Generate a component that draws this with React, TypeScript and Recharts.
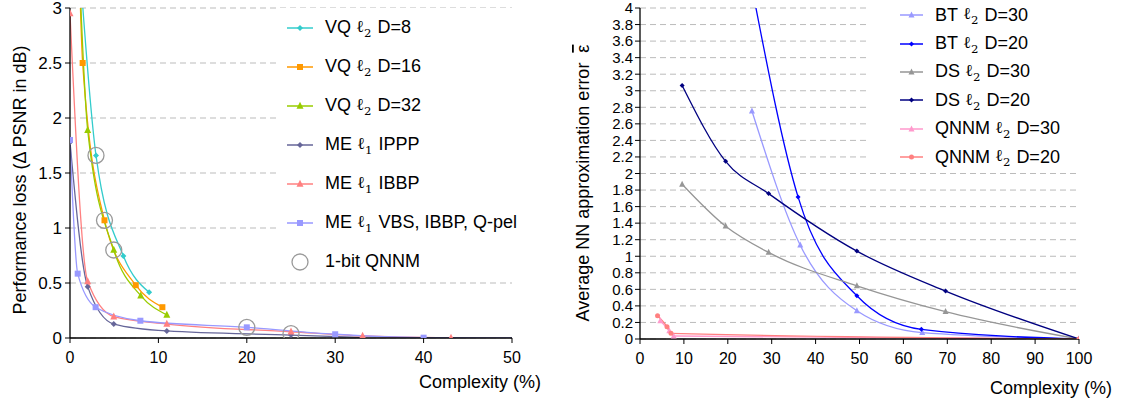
import React from 'react';
import { ComposedChart, Line, XAxis, YAxis, CartesianGrid, Legend } from 'recharts';

// left panel: performance loss vs complexity
const vq8X = [1, 2.94, 6.04, 8.95];
const vq8Y = [3.5, 1.66, 0.745, 0.415];
const vq16X = [1, 1.43, 3.9, 7.44, 10.45];
const vq16Y = [3.5, 2.5, 1.07, 0.48, 0.28];
const vq32X = [1, 2.0, 4.95, 8.0, 10.95];
const vq32Y = [3.45, 1.89, 0.8, 0.385, 0.21];
const ipppX = [0, 2, 4.95, 10.95, 25, 33.1];
const ipppY = [1.78, 0.467, 0.127, 0.064, 0.027, 0.005];
const ibbpX = [0, 2, 4.95, 10.95, 25, 33.1, 43.1];
const ibbpY = [2.95, 0.515, 0.194, 0.127, 0.057, 0.018, 0.0];
const vbsX = [0, 0.87, 2.9, 7.96, 20, 30, 40, 50];
const vbsY = [1.8, 0.585, 0.28, 0.157, 0.097, 0.034, 0.003, 0.0];
const qnnmBitX = [2.94, 3.9, 4.95, 20, 25];
const qnnmBitY = [1.66, 1.07, 0.8, 0.097, 0.04];

const leftXTicks = [0, 10, 20, 30, 40, 50];
const leftYTicks = [0, 0.5, 1, 1.5, 2, 2.5, 3];

// right panel: NN approximation error vs complexity
const bt30X = [25.5, 36.5, 49.4, 64.3, 100];
const bt30Y = [2.755, 1.134, 0.341, 0.076, 0];
const bt20X = [25.5, 36.0, 49.4, 64.1, 100];
const bt20Y = [4.25, 1.717, 0.523, 0.117, 0];
const ds30X = [9.6, 19.5, 29.3, 49.4, 69.6, 100];
const ds30Y = [1.87, 1.363, 1.046, 0.643, 0.33, 0];
const ds20X = [9.6, 19.5, 29.3, 49.4, 69.6, 100];
const ds20Y = [3.064, 2.147, 1.757, 1.062, 0.579, 0];
const qn30X = [4.63, 6.68, 7.67, 100];
const qn30Y = [0.22, 0.1, 0.036, 0];
const qn20X = [4.0, 6.15, 7.06, 100];
const qn20Y = [0.281, 0.149, 0.068, 0];

const rightXTicks = [0, 10, 20, 30, 40, 50, 60, 70, 80, 90, 100];
const rightYTicks = [0, 0.2, 0.4, 0.6, 0.8, 1, 1.2, 1.4, 1.6, 1.8, 2, 2.2, 2.4, 2.6, 2.8, 3, 3.2, 3.4, 3.6, 3.8, 4];

const zip = (xs: number[], ys: number[]) => xs.map((x, i) => ({ x, y: ys[i] }));

const FONT = '"Liberation Sans", Arial, sans-serif';

type Shape = 'diamond' | 'square' | 'triangle' | 'dot' | 'ring';

const mark = (shape: Shape, color: string, s: number, cx: number, cy: number, key?: any) => {
  if (shape === 'square')
    return <rect key={key} x={cx - s / 2} y={cy - s / 2} width={s} height={s} fill={color} />;
  if (shape === 'triangle')
    return (
      <polygon key={key} points={`${cx},${cy - s * 0.6} ${cx - s / 2},${cy + s * 0.4} ${cx + s / 2},${cy + s * 0.4}`} fill={color} />
    );
  if (shape === 'diamond')
    return (
      <polygon key={key} points={`${cx},${cy - s / 2} ${cx + s / 2},${cy} ${cx},${cy + s / 2} ${cx - s / 2},${cy}`} fill={color} />
    );
  if (shape === 'ring')
    return <circle key={key} cx={cx} cy={cy} r={s} fill="none" stroke={color} strokeWidth={1.3} />;
  return <circle key={key} cx={cx} cy={cy} r={s / 2} fill={color} />;
};

const dotFn = (shape: Shape, color: string, s: number, maxX = Infinity) => (p: any) => {
  if (p.cx == null || p.cy == null || (p.payload && p.payload.x >= maxX)) return <g key={p.index} />;
  return mark(shape, color, s, p.cx, p.cy, p.index);
};

interface Series {
  name: string;
  sub?: string;
  rest: string;
  color: string;
  shape: Shape;
  size: number;
  data: { x: number; y: number }[];
  maxX?: number;
}

const leftSeries: Series[] = [
  { name: 'VQ', sub: '2', rest: 'D=8', color: '#33CCCC', shape: 'diamond', size: 6, data: zip(vq8X, vq8Y) },
  { name: 'VQ', sub: '2', rest: 'D=16', color: '#FF9900', shape: 'square', size: 6, data: zip(vq16X, vq16Y) },
  { name: 'VQ', sub: '2', rest: 'D=32', color: '#99CC00', shape: 'triangle', size: 7, data: zip(vq32X, vq32Y) },
  { name: 'ME', sub: '1', rest: 'IPPP', color: '#666699', shape: 'diamond', size: 6, data: zip(ipppX, ipppY) },
  { name: 'ME', sub: '1', rest: 'IBBP', color: '#FF8080', shape: 'triangle', size: 7, data: zip(ibbpX, ibbpY) },
  { name: 'ME', sub: '1', rest: 'VBS, IBBP, Q-pel', color: '#9999FF', shape: 'square', size: 6, data: zip(vbsX, vbsY), maxX: 50 },
];

const rightSeries: Series[] = [
  { name: 'BT', sub: '2', rest: 'D=30', color: '#9999FF', shape: 'triangle', size: 6, data: zip(bt30X, bt30Y) },
  { name: 'BT', sub: '2', rest: 'D=20', color: '#0000FF', shape: 'diamond', size: 5, data: zip(bt20X, bt20Y) },
  { name: 'DS', sub: '2', rest: 'D=30', color: '#969696', shape: 'triangle', size: 6, data: zip(ds30X, ds30Y) },
  { name: 'DS', sub: '2', rest: 'D=20', color: '#000080', shape: 'diamond', size: 5, data: zip(ds20X, ds20Y) },
  { name: 'QNNM', sub: '2', rest: 'D=30', color: '#FF99CC', shape: 'triangle', size: 6, data: zip(qn30X, qn30Y) },
  { name: 'QNNM', sub: '2', rest: 'D=20', color: '#FF8080', shape: 'dot', size: 5, data: zip(qn20X, qn20Y) },
];

const Ell = ({ sub }: { sub: string }) => (
  <span style={{ margin: '0 6px 0 5px' }}>
    <span style={{ fontFamily: '"DejaVu Serif", serif', fontSize: '0.92em' }}>ℓ</span>
    <sub style={{ fontSize: '0.65em', fontFamily: '"DejaVu Serif", serif' }}>{sub}</sub>
  </span>
);

const LegendBox = ({ items, rowH, iconW, gap, fontSize, padLeft, ring }: any) => (
  <div style={{ background: '#fff', fontFamily: FONT, fontSize, color: '#000', paddingLeft: padLeft }}>
    {items.map((s: Series, i: number) => (
      <div key={i} style={{ height: rowH, display: 'flex', alignItems: 'center', whiteSpace: 'nowrap' }}>
        <svg width={iconW} height={14} style={{ marginRight: gap, flex: 'none' }}>
          <line x1={0} y1={7} x2={iconW} y2={7} stroke={s.color} strokeWidth={1.5} />
          {mark(s.shape, s.color, s.size, iconW / 2, 7)}
        </svg>
        <span>{s.name}</span>
        <Ell sub={s.sub || ''} />
        <span>{s.rest}</span>
      </div>
    ))}
    {ring && (
      <div style={{ height: rowH, display: 'flex', alignItems: 'center', whiteSpace: 'nowrap' }}>
        <svg width={iconW} height={20} style={{ marginRight: gap, flex: 'none' }}>
          <circle cx={iconW / 2} cy={10} r={8} fill="none" stroke="#999" strokeWidth={1.3} />
        </svg>
        <span>{ring}</span>
      </div>
    )}
  </div>
);

const axisStyle = { stroke: '#000', strokeWidth: 1.3 };

export default function App() {
  return (
    <div style={{ position: 'absolute', left: 0, top: 0, width: 1127, height: 402, background: '#fff' }}>
      <div style={{ position: 'absolute', left: 0, top: 0 }}>
        <ComposedChart width={560} height={402} margin={{ top: 8, right: 48, bottom: 24, left: 0 }}>
          <CartesianGrid vertical={false} stroke="#BBBBBB" strokeDasharray="6 4" />
          <XAxis
            type="number"
            dataKey="x"
            domain={[0, 50]}
            ticks={leftXTicks}
            interval={0}
            height={40}
            tickSize={5}
            tickMargin={9}
            tick={{ fontSize: 16, fill: '#000', fontFamily: FONT }}
            axisLine={axisStyle}
            tickLine={{ stroke: '#000' }}
            allowDataOverflow
            label={{
              value: 'Complexity (%)',
              content: () => (
                <text x={480} y={388} textAnchor="middle" fontSize={18} fontFamily={FONT} fill="#000">
                  Complexity (%)
                </text>
              ),
            }}
          />
          <YAxis
            type="number"
            domain={[0, 3]}
            ticks={leftYTicks}
            interval={0}
            width={70}
            tickSize={5}
            tickMargin={3}
            tick={{ fontSize: 17, fill: '#000', fontFamily: FONT }}
            axisLine={axisStyle}
            tickLine={{ stroke: '#000' }}
            allowDataOverflow
            label={{
              value: 'Performance loss (Δ PSNR in dB)',
              content: () => (
                <text
                  x={20}
                  y={180}
                  transform="rotate(-90 20 180)"
                  textAnchor="middle"
                  dominantBaseline="central"
                  fontSize={18}
                  fontFamily={FONT}
                  fill="#000"
                >
                  Performance loss (Δ PSNR in dB)
                </text>
              ),
            }}
          />
          {leftSeries.map((s, i) => (
            <Line
              key={i}
              data={s.data}
              dataKey="y"
              type="monotone"
              stroke={s.color}
              strokeWidth={1.3}
              dot={dotFn(s.shape, s.color, s.size, s.maxX)}
              activeDot={false}
              isAnimationActive={false}
            />
          ))}
          <Line
            data={zip(qnnmBitX, qnnmBitY)}
            dataKey="y"
            stroke="none"
            strokeWidth={0}
            dot={dotFn('ring', '#999999', 8)}
            activeDot={false}
            isAnimationActive={false}
          />
          <Legend
            layout="vertical"
            align="center"
            verticalAlign="middle"
            wrapperStyle={{ left: 280, top: 8, width: 280 }}
            content={() => (
              <LegendBox items={leftSeries} rowH={39} iconW={26} gap={12} fontSize={18} padLeft={7} ring="1-bit QNNM" />
            )}
          />
        </ComposedChart>
      </div>
      <div style={{ position: 'absolute', left: 560, top: 0 }}>
        <ComposedChart width={567} height={402} margin={{ top: 8, right: 48, bottom: 23, left: 0 }}>
          <CartesianGrid vertical={false} stroke="#BBBBBB" strokeDasharray="6 4" />
          <XAxis
            type="number"
            dataKey="x"
            domain={[0, 100]}
            ticks={rightXTicks}
            interval={0}
            height={40}
            tickSize={5}
            tickMargin={9}
            tick={{ fontSize: 16, fill: '#000', fontFamily: FONT }}
            axisLine={axisStyle}
            tickLine={{ stroke: '#000' }}
            allowDataOverflow
            label={{
              value: 'Complexity (%)',
              content: () => (
                <text x={491} y={394} textAnchor="middle" fontSize={18} fontFamily={FONT} fill="#000">
                  Complexity (%)
                </text>
              ),
            }}
          />
          <YAxis
            type="number"
            domain={[0, 4]}
            ticks={rightYTicks}
            interval={0}
            width={80}
            tickSize={5}
            tickMargin={2}
            tick={{ fontSize: 15, fill: '#000', fontFamily: FONT }}
            axisLine={axisStyle}
            tickLine={{ stroke: '#000' }}
            allowDataOverflow
            label={{
              value: 'Average NN approximation error ε',
              content: () => (
                <text
                  x={23}
                  y={183}
                  transform="rotate(-90 23 183)"
                  textAnchor="middle"
                  dominantBaseline="central"
                  fontSize={18}
                  fontFamily={FONT}
                  fill="#000"
                >
                  {'Average NN approximation error\u00A0\u00A0'}
                  <tspan style={{ textDecoration: 'overline' }}>{'\u03B5'}</tspan>
                </text>
              ),
            }}
          />
          {rightSeries.map((s, i) => (
            <Line
              key={i}
              data={s.data}
              dataKey="y"
              type="monotone"
              stroke={s.color}
              strokeWidth={1.3}
              dot={dotFn(s.shape, s.color, s.size)}
              activeDot={false}
              isAnimationActive={false}
            />
          ))}
          <Legend
            layout="vertical"
            align="center"
            verticalAlign="middle"
            wrapperStyle={{ left: 310, top: 1, width: 210 }}
            content={() => (
              <LegendBox items={rightSeries} rowH={28.4} iconW={23} gap={12} fontSize={18} padLeft={30} />
            )}
          />
        </ComposedChart>
      </div>
    </div>
  );
}
